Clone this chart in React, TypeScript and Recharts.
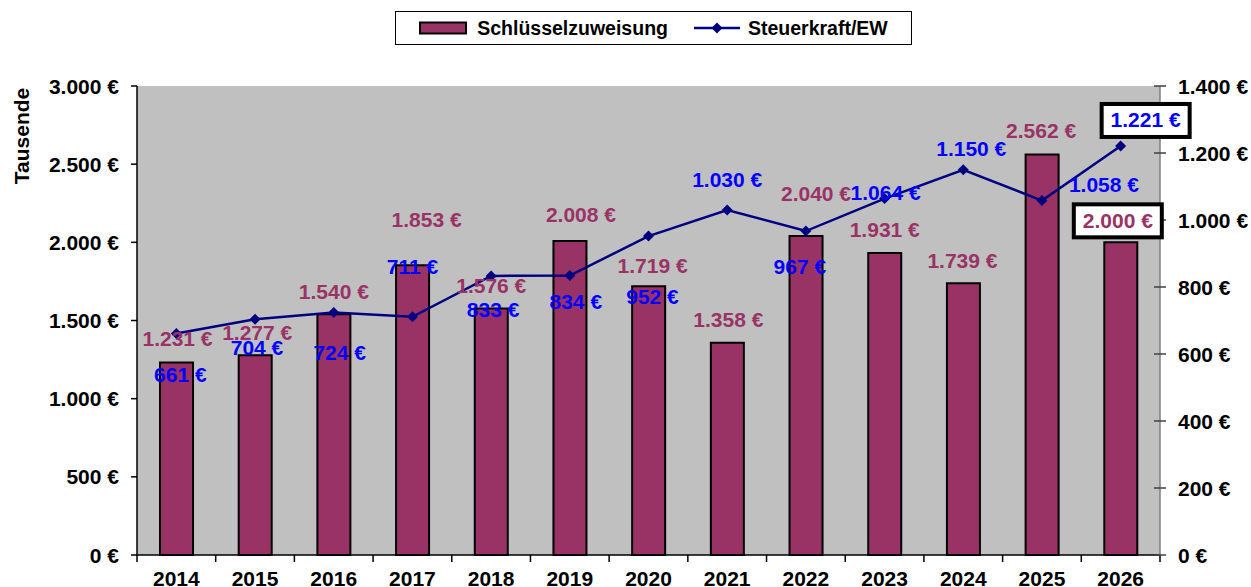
import React from "react";
import { ComposedChart, Bar, Line, XAxis, YAxis, CartesianGrid, LabelList } from "recharts";

const years = ["2014", "2015", "2016", "2017", "2018", "2019", "2020", "2021", "2022", "2023", "2024", "2025", "2026"];
const zuweisung = [1231, 1277, 1540, 1853, 1576, 2008, 1719, 1358, 2040, 1931, 1739, 2562, 2000];
const steuerkraft = [661, 704, 724, 711, 833, 834, 952, 1030, 967, 1064, 1150, 1058, 1221];
const leftTicks = [0, 500, 1000, 1500, 2000, 2500, 3000];
const rightTicks = [0, 200, 400, 600, 800, 1000, 1200, 1400];

// label nudges [dx, dy] in px, hand-placed like in the original sheet
const barLabelShift = [
  [1, -24], [2, -23], [0, -23], [14, -46], [0, -23], [11, -27], [4, -21],
  [1, -23], [10, -43], [0, -24], [-1, -23], [-1, -24], [-3, -22],
];
const lineLabelShift = [
  [4, 41], [2, 28], [6, 40], [0, -50], [2, 34], [6, 26], [4, 60],
  [0, -30], [-6, 35], [1, -6], [8, -21], [62, -16], [25, -26],
];
const boxedIndex = 12;

const data = years.map((year, i) => ({ year, zuweisung: zuweisung[i], steuerkraft: steuerkraft[i] }));

const W = 1251;
const H = 587;
const LEFT_W = 137;
const RIGHT_W = 91;
const TOP = 86;
const X_H = 32;
const STEP = (W - LEFT_W - RIGHT_W) / years.length;

const FONT = "'Liberation Sans', Arial, sans-serif";
const MAROON = "#993366";
const NAVY = "#000080";
const BLUE = "#0000FF";

const fmt = (v: number) => String(v).replace(/\B(?=(\d{3})+(?!\d))/g, ".") + " €";

const LeftTick = ({ x, y, payload }: any) => (
  <g>
    <line x1={x - 6} x2={x} y1={y} y2={y} stroke="#000" strokeWidth={1.5} />
    <text x={x - 18} y={y} textAnchor="end" dominantBaseline="central" fontFamily={FONT} fontWeight="bold" fontSize={21} fill="#000">
      {fmt(payload.value)}
    </text>
  </g>
);

const RightTick = ({ x, y, payload }: any) => (
  <g>
    <line x1={x - 6} x2={x + 6} y1={y} y2={y} stroke="#404040" strokeWidth={1.5} />
    <text x={x + 18} y={y} textAnchor="start" dominantBaseline="central" fontFamily={FONT} fontWeight="bold" fontSize={21} fill="#000">
      {fmt(payload.value)}
    </text>
  </g>
);

const YearTick = ({ x, y, payload, index }: any) => (
  <g>
    <line x1={x - STEP / 2} x2={x - STEP / 2} y1={y} y2={y + 7} stroke="#000" strokeWidth={1.5} />
    {index === years.length - 1 && (
      <line x1={x + STEP / 2} x2={x + STEP / 2} y1={y} y2={y + 7} stroke="#000" strokeWidth={1.5} />
    )}
    <text x={x} y={y + 31} textAnchor="middle" fontFamily={FONT} fontWeight="bold" fontSize={21} fill="#000">
      {payload.value}
    </text>
  </g>
);

const valueLabel = (shift: number[][], color: string, isBar: boolean) => (props: any) => {
  const vb = props.viewBox || props;
  const index = props.index;
  const x = vb.x ?? props.x;
  const y = vb.y ?? props.y;
  const width = isBar ? vb.width ?? props.width ?? 0 : 0;
  const [dx, dy] = shift[index] || [0, 0];
  const cx = x + width / 2 + dx;
  const cy = y + dy;
  const text = fmt(props.value);
  return (
    <g>
      {index === boxedIndex && (
        <rect x={cx - 44} y={cy - 16} width={88} height={33} fill="#fff" stroke="#000" strokeWidth={4} />
      )}
      <text x={cx} y={cy} textAnchor="middle" dominantBaseline="central" fontFamily={FONT} fontWeight="bold" fontSize={21} fill={color}>
        {text}
      </text>
    </g>
  );
};

const Diamond = (props: any) => {
  const { cx, cy } = props;
  if (cx == null || cy == null) return null;
  return <path d={`M${cx},${cy - 5.5}L${cx + 5.5},${cy}L${cx},${cy + 5.5}L${cx - 5.5},${cy}Z`} fill={NAVY} />;
};

function ChartLegend() {
  return (
    <div
      style={{
        position: "absolute",
        left: 395,
        top: 11,
        width: 515,
        height: 32,
        border: "1px solid #000",
        display: "flex",
        alignItems: "center",
        justifyContent: "center",
        fontFamily: FONT,
        fontWeight: "bold",
        fontSize: 19.5,
        color: "#000",
        background: "#fff",
      }}
    >
      <svg width={48} height={14} style={{ marginRight: 10 }}>
        <rect x={1} y={1.5} width={46} height={11} fill={MAROON} stroke="#000" strokeWidth={2} />
      </svg>
      <span>Schlüsselzuweisung</span>
      <svg width={46} height={14} style={{ marginLeft: 26, marginRight: 8 }}>
        <line x1={0} x2={46} y1={7} y2={7} stroke={NAVY} strokeWidth={2.5} />
        <path d="M23,1.5L28.5,7L23,12.5L17.5,7Z" fill={NAVY} />
      </svg>
      <span>Steuerkraft/EW</span>
    </div>
  );
}

export default function App() {
  return (
    <div style={{ position: "absolute", left: 0, top: 0, width: W, height: H, background: "#fff" }}>
      <ChartLegend />
      <ComposedChart width={W} height={H} data={data} margin={{ top: TOP, right: 0, bottom: 0, left: 0 }}>
        <CartesianGrid fill="#C0C0C0" horizontal={false} vertical={false} />
        <XAxis
          dataKey="year"
          interval={0}
          height={X_H}
          tickSize={0}
          tickMargin={0}
          tickLine={false}
          axisLine={{ stroke: "#000", strokeWidth: 1.5 }}
          tick={<YearTick />}
        />
        <XAxis xAxisId="top" orientation="top" dataKey="year" height={0} tick={false} tickLine={false} axisLine={{ stroke: "#808080", strokeWidth: 1.5 }} />
        <YAxis
          yAxisId="left"
          width={LEFT_W}
          domain={[0, 3000]}
          ticks={leftTicks}
          interval={0}
          tickSize={0}
          tickMargin={0}
          tickLine={false}
          axisLine={{ stroke: "#000", strokeWidth: 1.5 }}
          tick={<LeftTick />}
          label={(p: any) => {
            const vb = p.viewBox || {};
            const lx = 21;
            const ly = (vb.y ?? TOP) + 50;
            return (
              <text x={lx} y={ly} transform={`rotate(-90 ${lx} ${ly})`} textAnchor="middle" dominantBaseline="central" fontFamily={FONT} fontWeight="bold" fontSize={21} fill="#000">
                Tausende
              </text>
            );
          }}
        />
        <YAxis
          yAxisId="right"
          orientation="right"
          width={RIGHT_W}
          domain={[0, 1400]}
          ticks={rightTicks}
          interval={0}
          tickSize={0}
          tickMargin={0}
          tickLine={false}
          axisLine={{ stroke: "#808080", strokeWidth: 1.5 }}
          tick={<RightTick />}
        />
        <Bar yAxisId="left" dataKey="zuweisung" barSize={33} fill={MAROON} stroke="#000" strokeWidth={2} isAnimationActive={false}>
          <LabelList dataKey="zuweisung" content={valueLabel(barLabelShift, MAROON, true)} />
        </Bar>
        <Line
          yAxisId="right"
          dataKey="steuerkraft"
          stroke={NAVY}
          strokeWidth={2.5}
          dot={<Diamond />}
          activeDot={false}
          isAnimationActive={false}
        >
          <LabelList dataKey="steuerkraft" content={valueLabel(lineLabelShift, BLUE, false)} />
        </Line>
      </ComposedChart>
    </div>
  );
}
